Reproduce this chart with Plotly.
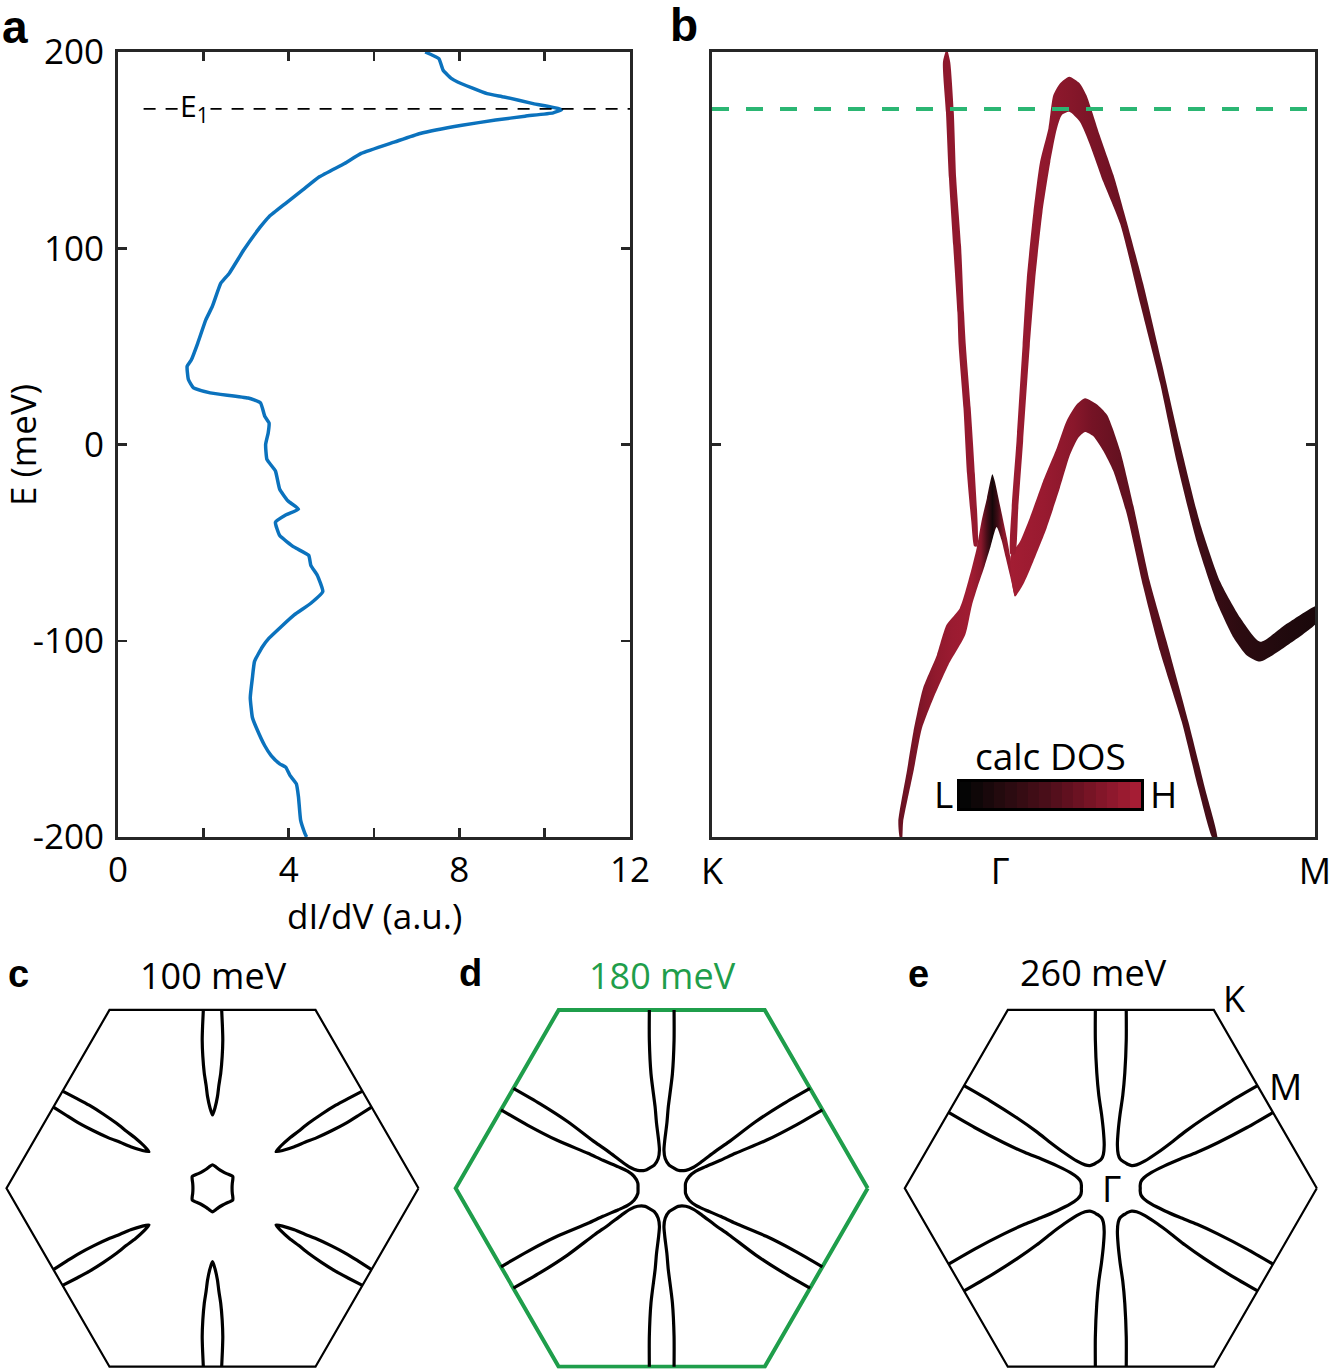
import numpy as np
import plotly.graph_objects as go

W, H = 1336, 1369
FONT = "Open Sans, Lato, DejaVu Sans, sans-serif"
AXC = "#262626"

# ---------------- panel a : dI/dV spectrum (E in meV, dI/dV in a.u.) ----------------
STS = [(200, 7.20), (196.6, 7.52), (190.7, 7.62), (186.4, 7.82), (184.7, 7.96), (178.8, 8.65),
       (177.1, 9.05), (173.7, 9.73), (170.7, 10.40), (169.0, 10.20), (167.3, 9.54), (165.3, 8.85),
       (162.7, 8.06), (158.5, 7.08), (154.2, 6.49), (148.3, 5.70), (143.2, 5.31), (136.4, 4.72),
       (129.7, 4.33), (122.9, 3.93), (116.1, 3.54), (111.0, 3.34), (99.2, 2.95), (87.3, 2.61),
       (82.2, 2.41), (70.3, 2.21), (63.6, 2.06), (51.7, 1.87), (43.2, 1.72), (39.8, 1.62),
       (33.1, 1.65), (28.8, 1.77), (26.3, 2.16), (23.7, 3.05), (21.2, 3.34), (14.4, 3.44),
       (11.0, 3.54), (5.9, 3.52), (0.0, 3.46), (-7.6, 3.49), (-13.5, 3.69), (-22.8, 3.79),
       (-28.7, 3.98), (-32.9, 4.23), (-35.9, 3.93), (-39.6, 3.69), (-46.4, 3.79), (-52.3, 4.13),
       (-56.5, 4.47), (-61.6, 4.52), (-66.6, 4.67), (-75.0, 4.80), (-80.9, 4.52), (-86.8, 4.13),
       (-92.7, 3.83), (-98.7, 3.54), (-102.9, 3.39), (-110.5, 3.20), (-118.9, 3.15), (-129.0, 3.10),
       (-139.1, 3.15), (-144.2, 3.24), (-153.5, 3.44), (-158.5, 3.59), (-162.7, 3.79), (-164.4, 3.93),
       (-168.6, 4.03), (-172.9, 4.18), (-179.6, 4.23), (-191.4, 4.28), (-198.1, 4.38), (-200, 4.42)]
E_STS = [p[0] for p in STS]
DIDV = [p[1] for p in STS]
E1 = 171          # meV, marked energy
X_TICKS_A = [0, 2, 4, 6, 8, 10, 12]
X_TICKTEXT_A = ["0", " ", "4", " ", "8", " ", "12"]
Y_TICKS = [-200, -100, 0, 100, 200]
Y_TICKTEXT = ["-200", "-100", "0", "100", "200"]

# ---------------- panel b : fat bands along K - Gamma - M  (k: 0..1, E meV) ----------------
K_TICKS = [0.0, 0.478, 1.0]
K_LABELS = ["K", "Γ", "M"]

BAND_A = [(0.3885, 201), (0.383, 194.9), (0.388, 169.3), (0.393, 135.6), (0.400, 101.4), (0.407, 67.2),
          (0.409, 50.3), (0.417, 18.6), (0.423, -15.1), (0.430, -39.1), (0.435, -51.9), (0.440, -51.9),
          (0.436, -15.1), (0.429, 18.6), (0.421, 50.3), (0.418, 67.2), (0.413, 101.4), (0.405, 135.6),
          (0.401, 169.3), (0.395, 194.9), (0.390, 201)]
BAND_A_DOS = [(0.38, 0.86), (0.44, 0.92)]

BAND_B = [(0.495, -55.9), (0.497, -32.3), (0.505, 1.8), (0.515, 50.3), (0.522, 84.5), (0.533, 118.4),
          (0.544, 144.0), (0.558, 161.2), (0.566, 178.0), (0.577, 184.0), (0.5925, 187.4), (0.610, 184.0),
          (0.621, 178.0), (0.643, 157.6), (0.666, 137.2), (0.688, 113.3), (0.715, 82.0), (0.746, 41.4),
          (0.776, 0.9), (0.809, -39.7), (0.843, -70.1), (0.876, -88.3), (0.909, -100.5), (0.953, -91.4),
          (1.005, -82.0), (1.005, -90.0), (0.953, -102.5), (0.909, -110.6), (0.887, -107.5), (0.865, -98.5),
          (0.837, -80.3), (0.804, -49.8), (0.771, -9.3), (0.743, 31.3), (0.710, 71.8), (0.677, 112.3),
          (0.649, 133.7), (0.627, 152.5), (0.610, 164.4), (0.5925, 169.5), (0.580, 167.8), (0.572, 161.0),
          (0.561, 144.0), (0.548, 118.4), (0.536, 84.5), (0.527, 50.3), (0.516, 1.8), (0.508, -32.3),
          (0.5025, -55.9)]
BAND_B_DOS = [(0.495, 0.94), (0.56, 0.87), (0.595, 0.82), (0.65, 0.72), (0.72, 0.58), (0.78, 0.48),
              (0.83, 0.35), (0.88, 0.26), (0.93, 0.20), (1.0, 0.14)]

BAND_C = [(0.312, -201), (0.309, -192.3), (0.323, -166.8), (0.334, -146.4), (0.350, -124.2),
          (0.373, -107.2), (0.389, -91.9), (0.411, -83.4), (0.428, -66.3), (0.439, -52.7), (0.447, -39.1),
          (0.456, -27.2), (0.465, -15.2), (0.469, -18.7), (0.475, -27.2), (0.482, -37.4), (0.489, -47.6),
          (0.495, -57.8), (0.500, -68.0), (0.5025, -77.4), (0.494, -66.5), (0.487, -57.5), (0.480, -48.5),
          (0.472, -42.0), (0.462, -52.0), (0.452, -62.0), (0.441, -72.0), (0.431, -82.0), (0.420, -97.0),
          (0.392, -112.3), (0.367, -129.4), (0.348, -144.7), (0.334, -166.8), (0.317, -192.3), (0.315, -201)]
BAND_C_DOS = [(0.31, 0.64), (0.335, 0.74), (0.37, 0.88), (0.40, 0.94), (0.43, 0.97), (0.446, 0.86),
              (0.456, 0.45), (0.465, 0.10), (0.474, 0.40), (0.484, 0.86), (0.503, 0.98)]

BAND_D = [(0.5025, -77.4), (0.516, -71.4), (0.533, -59.5), (0.555, -42.5), (0.577, -22.1), (0.594, -5.0),
          (0.6075, 3.5), (0.6186, 6.4), (0.632, 4.3), (0.649, -3.3), (0.6655, -13.5), (0.688, -35.5),
          (0.715, -72.3), (0.743, -105.5), (0.779, -141.3), (0.8065, -175.3), (0.831, -201), (0.838, -201),
          (0.8176, -175.3), (0.790, -141.3), (0.754, -100.4), (0.726, -69.7), (0.699, -31.4), (0.677, -3.3),
          (0.655, 15.1), (0.638, 20.5), (0.6186, 23.6), (0.605, 20.5), (0.588, 12.0), (0.572, -1.6),
          (0.549, -18.7), (0.527, -37.4), (0.511, -49.3), (0.495, -57.0)]
BAND_D_DOS = [(0.495, 0.99), (0.55, 0.93), (0.60, 0.84), (0.63, 0.72), (0.68, 0.62), (0.74, 0.55),
              (0.80, 0.48), (0.84, 0.42)]

DOS_SCALE = [[0.0, "#050505"], [0.25, "#2a0b10"], [0.5, "#4e0e1a"], [0.75, "#7a1426"], [1.0, "#a51d34"]]
DOS_STEPS = list(range(16))

# ---------------- panels c-e : constant-energy contours (units of Gamma-K = 1) ----------------
# c: 100 meV - leaf pocket along Gamma-M (right half, edge -> tip), central pocket (deg from GM, r)
C_LEAF = [(0.0445, 0.866), (0.048, 0.79), (0.050, 0.72), (0.047, 0.64), (0.040, 0.559), (0.031, 0.50),
          (0.024, 0.445), (0.012, 0.39), (0.0, 0.356)]
C_CENTER = [(0, 0.114), (7, 0.107), (16, 0.099), (30, 0.095)]
# d: 180 meV and e: 260 meV - contour from BZ edge along the GM arm to the GK mid-point
D_CURVE = [(-0.060, 0.866), (-0.060, 0.718), (-0.052, 0.556), (-0.032, 0.395), (-0.025, 0.315),
           (-0.015, 0.234), (-0.011, 0.185), (-0.017, 0.145), (-0.036, 0.113), (-0.0575, 0.0996)]
E_CURVE = [(-0.075, 0.866), (-0.075, 0.72), (-0.068, 0.56), (-0.058, 0.45), (-0.045, 0.36),
           (-0.036, 0.28), (-0.032, 0.21), (-0.036, 0.165), (-0.045, 0.143), (-0.060, 0.130),
           (-0.0715, 0.1238)]
PANEL_ENERGIES = ["100 meV", "180 meV", "260 meV"]
GREEN = "#1f9e4b"
GREEN_DASH = "#2bb673"


# ---------------- helpers ----------------
def hex2rgb(h):
    h = h.lstrip("#")
    return [int(h[i:i + 2], 16) for i in (0, 2, 4)]


def dos_color(v):
    for (p0, c0), (p1, c1) in zip(DOS_SCALE[:-1], DOS_SCALE[1:]):
        if p0 <= v <= p1:
            t = (v - p0) / (p1 - p0)
            a, b = hex2rgb(c0), hex2rgb(c1)
            return "rgb(%d,%d,%d)" % tuple(round(a[i] + t * (b[i] - a[i])) for i in range(3))
    return DOS_SCALE[-1][1]


def rot(u, v, ang):
    a = np.deg2rad(ang)
    u = np.asarray(u, float)
    v = np.asarray(v, float)
    return u * np.cos(a) - v * np.sin(a), u * np.sin(a) + v * np.cos(a)


def reflect(u, v, ang):
    a = np.deg2rad(ang)
    d = np.array([np.cos(a), np.sin(a)])
    u = np.asarray(u, float)
    v = np.asarray(v, float)
    dot = u * d[0] + v * d[1]
    return 2 * dot * d[0] - u, 2 * dot * d[1] - v


def join(segs):
    xs, ys = [], []
    for sx, sy in segs:
        xs += list(sx) + [None]
        ys += list(sy) + [None]
    return xs, ys


def dom_x(x0, x1):
    return [x0 / W, x1 / W]


def dom_y(y0, y1):
    return [1 - y1 / H, 1 - y0 / H]


fig = go.Figure()

# ---------- panel a ----------
fig.add_trace(go.Scatter(x=DIDV, y=E_STS, mode="lines",
                         line=dict(color="#0b72bd", width=3.5, shape="spline", smoothing=0.4),
                         xaxis="x", yaxis="y", hoverinfo="skip"))
fig.add_trace(go.Scatter(x=[0.6, 12], y=[E1, E1], mode="lines",
                         line=dict(color="black", width=1.8, dash="12px,10px"),
                         xaxis="x", yaxis="y", hoverinfo="skip"))

# ---------- panel b ----------
for outline, dos in [(BAND_A, BAND_A_DOS), (BAND_C, BAND_C_DOS), (BAND_D, BAND_D_DOS), (BAND_B, BAND_B_DOS)]:
    ks = [p[0] for p in outline]
    es = [p[1] for p in outline]
    k0, k1 = dos[0][0], dos[-1][0]
    cs = [[(k - k0) / (k1 - k0), dos_color(d)] for k, d in dos]
    fig.add_trace(go.Scatter(x=ks + [ks[0]], y=es + [es[0]], mode="lines", fill="toself",
                             line=dict(width=0, shape="spline", smoothing=0.6),
                             fillcolor=dos_color(np.mean([d for _, d in dos])),
                             fillgradient=dict(type="horizontal", colorscale=cs, start=k0, stop=k1),
                             xaxis="x2", yaxis="y2", hoverinfo="skip"))
fig.add_trace(go.Scatter(x=[0, 1], y=[E1, E1], mode="lines",
                         line=dict(color=GREEN_DASH, width=4, dash="17px,17px"),
                         xaxis="x2", yaxis="y2", hoverinfo="skip"))

# colour legend (calc DOS)
fig.add_trace(go.Heatmap(z=[DOS_STEPS], colorscale=DOS_SCALE, showscale=False,
                         xaxis="x3", yaxis="y3", hoverinfo="skip"))

# ---------- panels c-e ----------
hex_ang = np.arange(0, 361, 60)
HEX_U, HEX_V = np.cos(np.deg2rad(hex_ang)), np.sin(np.deg2rad(hex_ang))


def leaf_pockets():
    ru = [p[0] for p in C_LEAF]
    rv = [p[1] for p in C_LEAF]
    u = ru + [-x for x in ru[::-1][1:]]
    v = rv + rv[::-1][1:]
    segs = [rot(u, v, 60 * n) for n in range(6)]
    # central pocket
    ang = [a for a, _ in C_CENTER] + [60 - a for a, _ in C_CENTER[::-1][1:]]
    rr = [r for _, r in C_CENTER] + [r for _, r in C_CENTER[::-1][1:]]
    th, rad = [], []
    for n in range(6):
        th += [90 + 60 * n + a for a in ang[:-1]]
        rad += rr[:-1]
    th.append(th[0])
    rad.append(rad[0])
    th = np.deg2rad(th)
    segs.append((np.array(rad) * np.cos(th), np.array(rad) * np.sin(th)))
    return join(segs)


def u_curves(curve):
    u = np.array([p[0] for p in curve])
    v = np.array([p[1] for p in curve])
    mu, mv = reflect(u, v, 120)
    fu = np.concatenate([u, mu[::-1][1:]])
    fv = np.concatenate([v, mv[::-1][1:]])
    return join([rot(fu, fv, 60 * n) for n in range(6)])


contours = [leaf_pockets(), u_curves(D_CURVE), u_curves(E_CURVE)]
HEX_CX = [212.5, 661.7, 1110.8]
HEX_CY = 1188.3
R_PX = 206.0
for i, (cx, cy) in enumerate(contours):
    xa, ya = "x%d" % (4 + i), "y%d" % (4 + i)
    fig.add_trace(go.Scatter(x=list(HEX_U), y=list(HEX_V), mode="lines",
                             line=dict(color=GREEN if i == 1 else "black", width=4 if i == 1 else 2.2),
                             xaxis=xa, yaxis=ya, hoverinfo="skip"))
    fig.add_trace(go.Scatter(x=cx, y=cy, mode="lines", line=dict(color="black", width=3.2, shape="spline",
                                                                  smoothing=0.7),
                             xaxis=xa, yaxis=ya, hoverinfo="skip"))

# ---------------- layout ----------------
tickfont = dict(family=FONT, size=35, color="black")
common = dict(showgrid=False, zeroline=False, showline=True, linecolor=AXC, linewidth=3, mirror="ticks",
              ticks="inside", ticklen=9, tickwidth=2.5, tickcolor=AXC, tickfont=tickfont, automargin=False)
layout = dict(
    template="none",
    width=W, height=H, margin=dict(l=0, r=0, t=0, b=0, pad=0, autoexpand=False),
    paper_bgcolor="white", plot_bgcolor="white",
    showlegend=False, font=dict(family=FONT, color="black"),
    xaxis=dict(domain=dom_x(118, 630), range=[0, 12], tickvals=X_TICKS_A, ticktext=X_TICKTEXT_A,
               anchor="y", ticklabelstandoff=0, **common),
    yaxis=dict(domain=dom_y(52, 837), range=[-200, 200], tickvals=Y_TICKS, ticktext=Y_TICKTEXT, anchor="x",
               ticklabelstandoff=4, **common),
    xaxis2=dict(domain=dom_x(712, 1315), range=[0, 1], tickvals=K_TICKS, ticktext=K_LABELS, anchor="y2",
                showgrid=False, zeroline=False, showline=True, linecolor=AXC, linewidth=3, mirror=True,
                ticks="", tickfont=dict(family=FONT, size=36, color="black"), ticklabelstandoff=1,
                automargin=False),
    yaxis2=dict(domain=dom_y(52, 837), range=[-200, 200], tickvals=[0], anchor="x2", showticklabels=False,
                **{k: v for k, v in common.items() if k != "tickfont"}),
    xaxis3=dict(domain=dom_x(960, 1141), range=[-0.5, 15.5], anchor="y3", showgrid=False, zeroline=False,
                showline=True, linecolor="black", linewidth=3, mirror=True, ticks="", showticklabels=False,
                automargin=False),
    yaxis3=dict(domain=dom_y(782, 808), range=[-0.5, 0.5], anchor="x3", showgrid=False, zeroline=False,
                showline=True, linecolor="black", linewidth=3, mirror=True, ticks="", showticklabels=False,
                automargin=False),
)
for i, cx in enumerate(HEX_CX):
    layout["xaxis%d" % (4 + i)] = dict(domain=dom_x(cx - 1.02 * R_PX, cx + 1.02 * R_PX), range=[-1.02, 1.02],
                                       anchor="y%d" % (4 + i), visible=False, automargin=False)
    layout["yaxis%d" % (4 + i)] = dict(domain=dom_y(HEX_CY - 0.875 * R_PX, HEX_CY + 0.875 * R_PX),
                                       range=[-0.875, 0.875], anchor="x%d" % (4 + i), visible=False,
                                       automargin=False)
fig.update_layout(**layout)


def note(text, x, y, size, bold=False, color="black", family=FONT, **kw):
    fig.add_annotation(text="<b>%s</b>" % text if bold else text, x=x / W, y=1 - y / H, xref="paper",
                       yref="paper", showarrow=False, xanchor="center", yanchor="middle",
                       font=dict(family=family, size=size, color=color), **kw)


BOLD = "Liberation Sans, Arial, sans-serif"
note("a", 15, 27, 46, bold=True, family=BOLD)
note("b", 684, 25, 46, bold=True, family=BOLD)
note("c", 18, 974, 38, bold=True, family=BOLD)
note("d", 470, 973, 38, bold=True, family=BOLD)
note("e", 918, 974, 38, bold=True, family=BOLD)
note("dI/dV (a.u.)", 374, 915, 35)
note("E (meV)", 22, 445, 35, textangle=-90)
note("E<sub>1</sub>", 194, 107, 30, bgcolor="white")
note("calc DOS", 1050, 755, 37)
note("L", 943, 793, 37)
note("H", 1163, 793, 37)
note(PANEL_ENERGIES[0], 213, 975, 36)
note(PANEL_ENERGIES[1], 662, 975, 36, color=GREEN)
note(PANEL_ENERGIES[2], 1093, 972, 36)
note("K", 1234, 998, 36)
note("M", 1285, 1085, 37)
note("Γ", 1111, 1187, 37)

fig.write_html("out.html", config={"displayModeBar": False, "staticPlot": True},
               post_script="document.body.style.margin='0px';document.body.style.overflow='hidden';")
